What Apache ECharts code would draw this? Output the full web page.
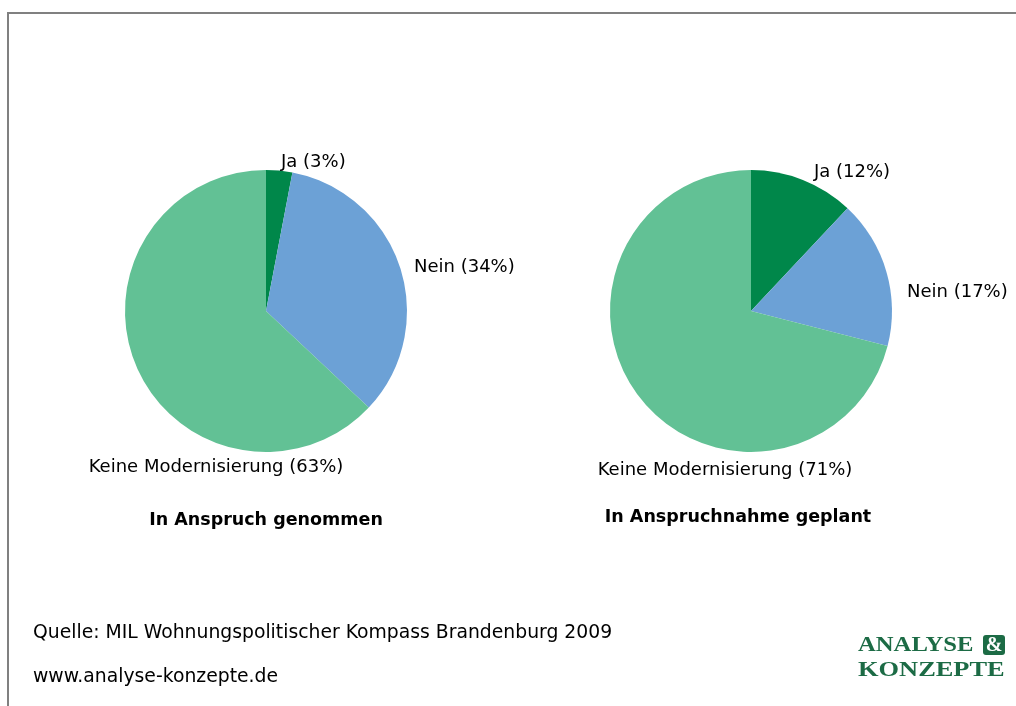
<!DOCTYPE html>
<html>
<head>
<meta charset="utf-8">
<script src="https://cdn.jsdelivr.net/npm/echarts@6/dist/echarts.min.js"></script>
<style>
html,body{margin:0;padding:0;background:#fff;}
#chart{width:1016px;height:706px;}
</style>
</head>
<body>
<div id="chart"></div>
<script>
const categories = ['Ja', 'Nein', 'Keine Modernisierung'];
const valuesGenommen = [3, 34, 63];
const valuesGeplant = [12, 17, 71];
const chartTitles = ['In Anspruch genommen', 'In Anspruchnahme geplant'];
const sourceText = 'Quelle: MIL Wohnungspolitischer Kompass Brandenburg 2009';
const urlText = 'www.analyse-konzepte.de';

const colors = ['#00874a', '#6ca1d6', '#62c195'];
const FONT = 'DejaVu Sans';

// label placement (layout only)
const labelPos = [
  [{x: 281, y: 162, align: 'left'}, {x: 414, y: 267, align: 'left'}, {x: 216, y: 467, align: 'center'}],
  [{x: 814, y: 172, align: 'left'}, {x: 907, y: 292, align: 'left'}, {x: 725, y: 470, align: 'center'}]
];

function mkSeries(vals, center, idx) {
  return {
    type: 'pie',
    center: center,
    radius: 141,
    startAngle: 90,
    clockwise: true,
    silent: true,
    data: categories.map((c, i) => ({name: c, value: vals[i], itemStyle: {color: colors[i]}})),
    label: {
      show: true,
      position: 'outside',
      formatter: '{b} ({d}%)',
      fontFamily: FONT,
      fontSize: 18,
      color: '#000',
      overflow: 'none'
    },
    labelLine: {show: false},
    labelLayout: function (p) {
      const lp = labelPos[idx][p.dataIndex];
      return {x: lp.x, y: lp.y, align: lp.align, verticalAlign: 'middle', width: 400};
    },
    itemStyle: {borderWidth: 0}
  };
}

const chart = echarts.init(document.getElementById('chart'));
chart.setOption({
  animation: false,
  backgroundColor: '#fff',
  series: [
    mkSeries(valuesGenommen, [266, 311], 0),
    mkSeries(valuesGeplant, [751, 311], 1)
  ],
  graphic: [
    {type: 'polyline', shape: {points: [[8, 706], [8, 13], [1016, 13]]}, style: {stroke: '#808080', lineWidth: 2, fill: null}},
    {type: 'text', x: 266, y: 520, style: {text: chartTitles[0], font: 'bold 17.5px "DejaVu Sans"', fill: '#000', textAlign: 'center', textVerticalAlign: 'middle'}},
    {type: 'text', x: 738, y: 517, style: {text: chartTitles[1], font: 'bold 17.5px "DejaVu Sans"', fill: '#000', textAlign: 'center', textVerticalAlign: 'middle'}},
    {type: 'text', x: 33, y: 633, style: {text: sourceText, font: '18.8px "DejaVu Sans"', fill: '#000', textVerticalAlign: 'middle'}},
    {type: 'text', x: 33, y: 677, style: {text: urlText, font: '18.8px "DejaVu Sans"', fill: '#000', textVerticalAlign: 'middle'}},
    {type: 'text', x: 858, y: 645, scaleX: 1.12, style: {text: 'ANALYSE', font: 'bold 22px "Liberation Serif"', fill: '#1c6b45', textVerticalAlign: 'middle'}},
    {type: 'rect', shape: {x: 983, y: 635, width: 22, height: 20, r: 3}, style: {fill: '#1c6b45'}},
    {type: 'text', x: 994, y: 646, style: {text: '&', font: 'bold 20px "Liberation Serif"', fill: '#fff', textAlign: 'center', textVerticalAlign: 'middle'}},
    {type: 'text', x: 858, y: 670, scaleX: 1.2, style: {text: 'KONZEPTE', font: 'bold 22px "Liberation Serif"', fill: '#1c6b45', textVerticalAlign: 'middle'}}
  ]
});
</script>
</body>
</html>
